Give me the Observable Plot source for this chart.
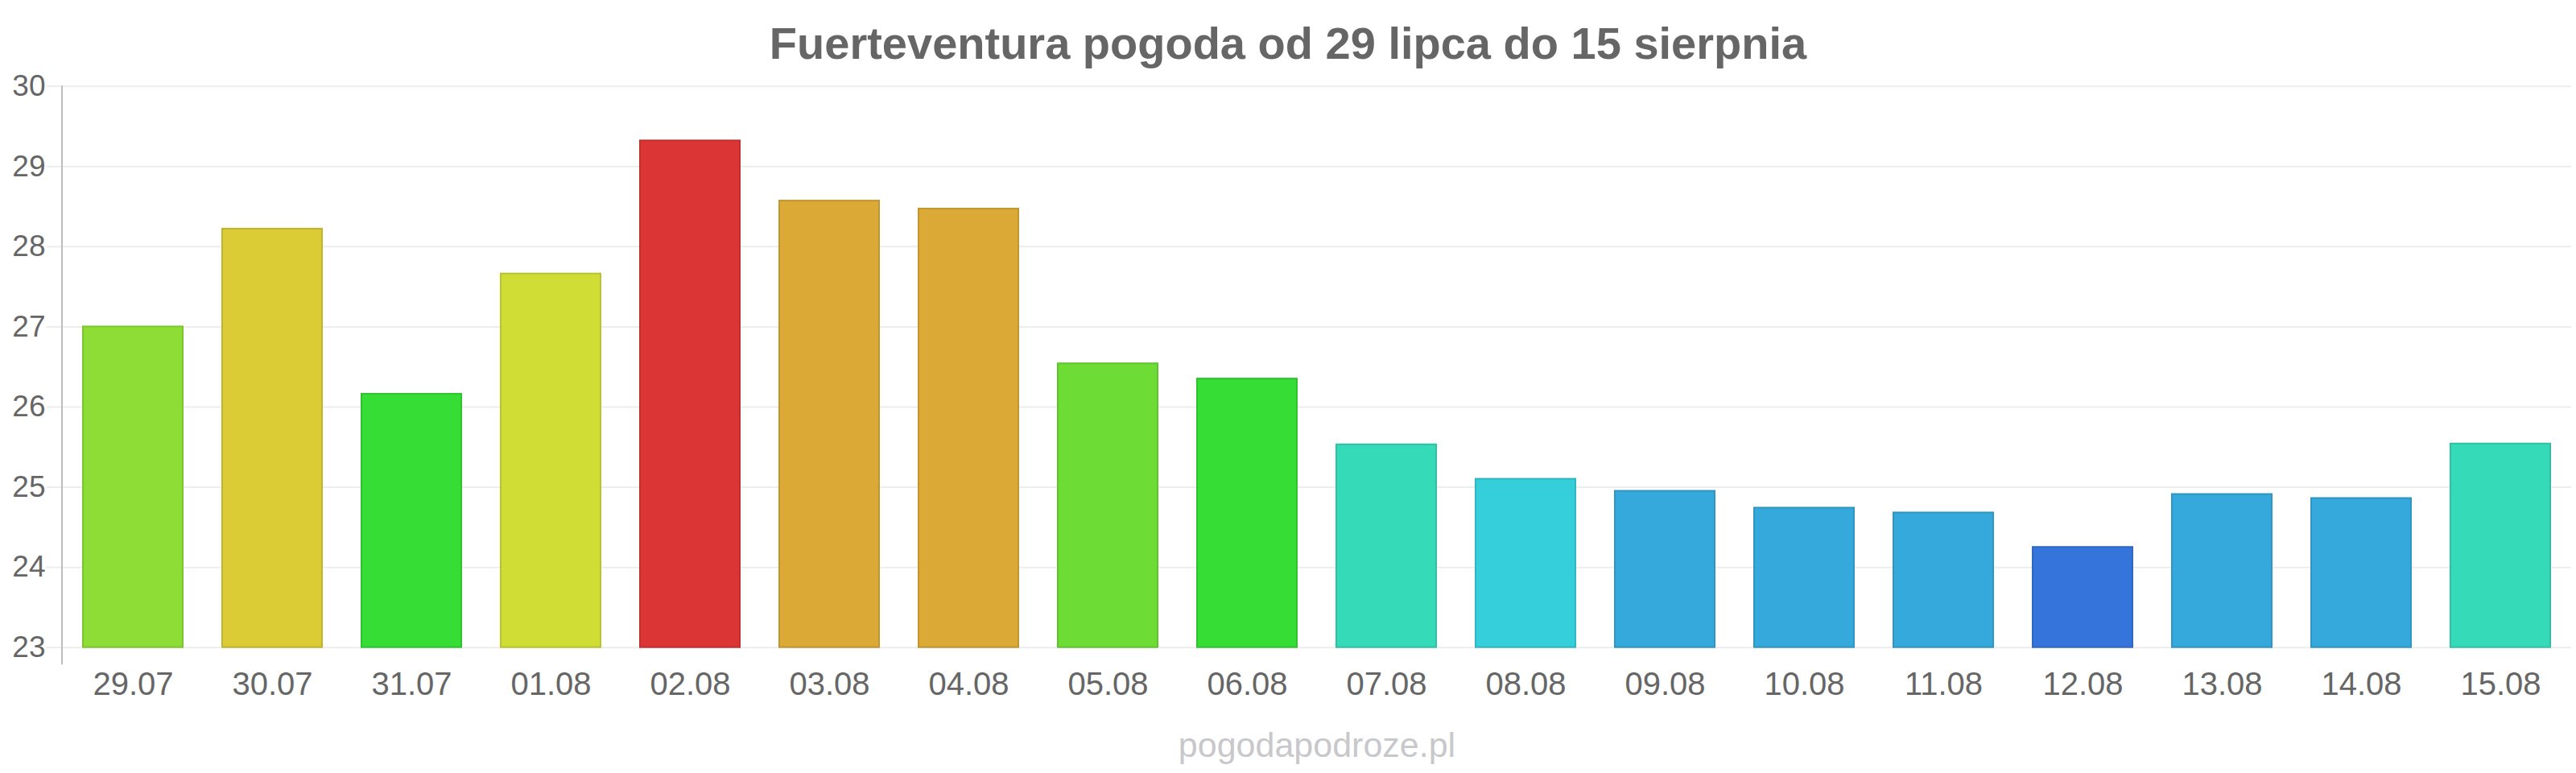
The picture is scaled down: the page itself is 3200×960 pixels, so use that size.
<!DOCTYPE html>
<html><head><meta charset="utf-8">
<script src="https://cdn.jsdelivr.net/npm/d3@7"></script>
<script src="https://cdn.jsdelivr.net/npm/@observablehq/plot@0.6"></script>
<style>
html,body{margin:0;padding:0;background:#fff;}
body{width:3200px;height:960px;overflow:hidden;font-family:"Liberation Sans",Arial,sans-serif;}
#title{height:80px;line-height:107px;text-align:center;font-size:56px;font-weight:bold;color:#666;white-space:nowrap;}
#chart svg{display:block;}
#credit{height:70px;line-height:70px;text-align:center;font-size:43px;color:#c8c8cc;padding-left:72px;box-sizing:border-box;width:3200px;}
</style></head><body>
<div id="title">Fuerteventura pogoda od 29 lipca do 15 sierpnia</div>
<div id="chart"></div>
<div id="credit">pogodapodroze.pl</div>
<script>
const dates = ["29.07","30.07","31.07","01.08","02.08","03.08","04.08","05.08","06.08","07.08","08.08","09.08","10.08","11.08","12.08","13.08","14.08","15.08"];
const temps = [27.0, 28.22, 26.16, 27.66, 29.32, 28.57, 28.47, 26.54, 26.35, 25.53, 25.1, 24.95, 24.74, 24.68, 24.25, 24.91, 24.86, 25.54];
const barColors = ["#8ddd36","#dbcb35","#35dd35","#cfdd35","#db3536","#dba935","#dba935","#6ddd35","#35dd35","#35dbb8","#35cedb","#35a9db","#35a9db","#35a9db","#3575db","#35a9db","#35a9db","#35dbb8"];
const yTicks = [23, 24, 25, 26, 27, 28, 29, 30];

const data = dates.map((d, i) => ({date: d, temp: temps[i], color: barColors[i]}));

const chart = Plot.plot({
  width: 3200,
  height: 810,
  marginTop: 26.7,
  marginBottom: 86.3,
  marginLeft: 77.5,
  marginRight: 6,
  style: {fontFamily: '"Liberation Sans", Arial, sans-serif', color: "#666", background: "transparent", overflow: "visible"},
  x: {domain: dates, paddingInner: 0.284, paddingOuter: 0.142, label: null},
  y: {domain: [yTicks[0], yTicks[yTicks.length - 1]], label: null},
  color: {type: "identity"},
  marks: [
    Plot.gridY(yTicks, {stroke: "#ededed", strokeOpacity: 1, strokeWidth: 2}),
    Plot.axisY(yTicks, {tickSize: 20, tickPadding: 1.5, tickFormat: d3.format("d"), stroke: "#ededed", strokeOpacity: 1, strokeWidth: 2, fill: "#666", fontSize: 37, label: null}),
    Plot.axisX({tickSize: 0, tickPadding: 30, fill: "#666", fontSize: 40, label: null}),
    Plot.barY(data, {x: "date", y1: () => yTicks[0], y2: "temp", fill: "color",
      stroke: d => d3.color(d.color).darker(0.35).formatHex(), strokeWidth: 2}),
    Plot.frame({anchor: "left", stroke: "#bdbdbd", strokeWidth: 2, insetBottom: -20, dx: -1})
  ]
});
document.getElementById("chart").appendChild(chart);
</script>
</body></html>
